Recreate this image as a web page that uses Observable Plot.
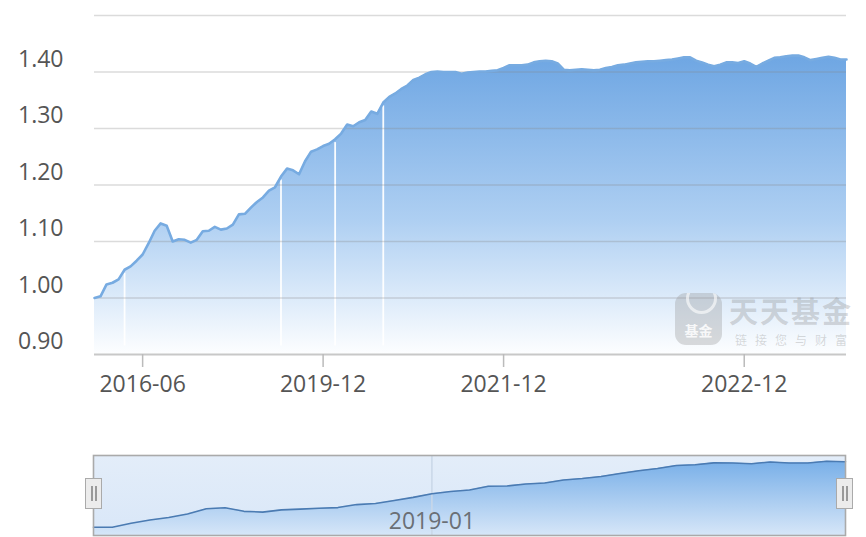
<!DOCTYPE html>
<html>
<head>
<meta charset="utf-8">
<script src="https://cdn.jsdelivr.net/npm/d3@7"></script>
<script src="https://cdn.jsdelivr.net/npm/@observablehq/plot@0.6"></script>
<style>
  html, body { margin: 0; padding: 0; background: #fff; }
  #wrap { position: relative; width: 866px; height: 537px; overflow: hidden; font-family: "Open Sans", sans-serif; }
  #main, #mini { position: absolute; left: 0; }
  #main { top: 0; }
  #mini { top: 445px; }
  .handle { position: absolute; width: 17px; height: 31px; box-sizing: border-box; background: #ececec; border: 1.5px solid #aaa; }
  .handle::before, .handle::after { content: ""; position: absolute; top: 7px; width: 1.5px; height: 15px; background: #9a9a9a; }
  .handle::before { left: 5px; }
  .handle::after { left: 9px; }
  .wm-logo { position: absolute; left: 675px; top: 293px; width: 47px; height: 52px; border-radius: 11px; background: rgba(150,150,150,0.33); overflow: hidden; }
  .wm-logo .c { position: absolute; left: 11px; top: -10px; width: 25px; height: 25px; border-radius: 50%; border: 3px solid rgba(255,255,255,0.6); }
  .wm-logo .t { position: absolute; left: 0; right: 0; bottom: 8px; text-align: center; color: rgba(255,255,255,0.85); font: 700 14px/1 "Noto Sans CJK SC", sans-serif; }
  .wm-big { position: absolute; left: 729px; top: 296px; font: 700 29px/28px "Noto Sans CJK SC", sans-serif; color: rgba(140,140,140,0.33); letter-spacing: 2px; white-space: nowrap; }
  .wm-small { position: absolute; left: 735px; top: 334px; font: 400 12px/12px "Noto Sans CJK SC", sans-serif; color: rgba(140,140,140,0.33); letter-spacing: 8px; white-space: nowrap; }
</style>
</head>
<body>
<div id="wrap">
  <div id="main"></div>
  <div class="wm-logo"><div class="c"></div><div class="t">基金</div></div>
  <div class="wm-big">天天基金</div>
  <div class="wm-small">链接您与财富</div>
  <div id="mini"></div>
  <div class="handle" style="left:85px; top:478px;"></div>
  <div class="handle" style="left:836px; top:478px;"></div>
</div>
<script>
// ---- data ----
const dates = [
  "2016-03","2016-03","2016-03","2016-04","2016-04","2016-04","2016-05","2016-05",
  "2016-06","2016-07","2016-09","2016-10","2016-12","2017-01","2017-02","2017-04","2017-05","2017-07",
  "2017-08","2017-09","2017-11","2017-12","2018-02","2018-03","2018-04","2018-06","2018-07","2018-09",
  "2018-10","2018-11","2019-01","2019-02","2019-04","2019-05","2019-06","2019-08","2019-09","2019-11",
  "2019-12","2019-12","2020-01","2020-02","2020-03","2020-04","2020-04","2020-05","2020-06","2020-07",
  "2020-08","2020-08","2020-09","2020-10","2020-11","2020-12","2020-12","2021-01","2021-02","2021-03",
  "2021-04","2021-04","2021-05","2021-06","2021-07","2021-08","2021-08","2021-09","2021-10","2021-11",
  "2021-12","2021-12","2021-12","2021-12","2022-01","2022-01","2022-01","2022-02","2022-02","2022-02",
  "2022-03","2022-03","2022-03","2022-03","2022-04","2022-04","2022-04","2022-05","2022-05","2022-05",
  "2022-06","2022-06","2022-06","2022-06","2022-07","2022-07","2022-07","2022-08","2022-08","2022-08",
  "2022-09","2022-09","2022-09","2022-09","2022-10","2022-10","2022-10","2022-11","2022-11","2022-11",
  "2022-12","2022-12","2022-12","2022-12","2023-01","2023-01","2023-01","2023-02","2023-02","2023-02",
  "2023-03","2023-03","2023-03","2023-03","2023-04","2023-04","2023-04","2023-05"
];
const nav = [
  1.000,1.003,1.024,1.027,1.033,1.050,1.056,1.066,1.077,1.097,
  1.119,1.132,1.128,1.100,1.104,1.103,1.098,1.103,1.118,1.119,
  1.126,1.121,1.123,1.130,1.148,1.149,1.160,1.170,1.178,1.190,
  1.196,1.215,1.229,1.226,1.219,1.242,1.259,1.263,1.269,1.273,
  1.281,1.291,1.307,1.304,1.311,1.315,1.330,1.326,1.346,1.356,
  1.362,1.370,1.376,1.386,1.390,1.396,1.400,1.401,1.400,1.400,
  1.400,1.397,1.399,1.400,1.401,1.401,1.402,1.403,1.407,1.412,
  1.412,1.412,1.413,1.417,1.419,1.420,1.419,1.415,1.404,1.403,
  1.404,1.405,1.404,1.403,1.404,1.407,1.409,1.412,1.413,1.415,
  1.417,1.418,1.419,1.419,1.420,1.421,1.422,1.424,1.426,1.426,
  1.420,1.417,1.413,1.410,1.413,1.417,1.417,1.416,1.419,1.415,
  1.409,1.415,1.420,1.425,1.426,1.428,1.429,1.429,1.426,1.421,
  1.423,1.425,1.427,1.425,1.422,1.422
];
const gapIndex = [5, 31, 40, 48];           // points where the filled area shows a white gap
const xTickLabels = ["2016-06", "2019-12", "2021-12", "2022-12"];
const yTickValues = [0.9, 1.0, 1.1, 1.2, 1.3, 1.4];
const gridValues = [1.0, 1.1, 1.2, 1.3, 1.4, 1.5];

// overview series shown in the zoom slider
const overview = [
  0.992,0.992,1.019,1.040,1.057,1.080,1.115,1.122,1.098,1.093,
  1.108,1.113,1.119,1.123,1.143,1.150,1.170,1.191,1.215,1.230,
  1.240,1.265,1.267,1.280,1.287,1.307,1.317,1.330,1.350,1.368,
  1.383,1.403,1.408,1.421,1.420,1.415,1.427,1.420,1.420,1.432,1.428
];
const sliderLabel = "2019-01";
const sliderLabelIndex = 18;

// ---- main chart ----
const xTicks = xTickLabels.map(l => dates.indexOf(l));
const main = Plot.plot({
  width: 866, height: 400,
  marginLeft: 94, marginRight: 20, marginTop: 15, marginBottom: 46,
  style: { fontFamily: "'Open Sans', sans-serif", background: "transparent", overflow: "visible" },
  x: { domain: [0, nav.length - 1] },
  y: { domain: [0.9, 1.5] },
  marks: [
    Plot.areaY(nav, { x: (d, i) => i, y1: 0.9, y2: d => d, fill: "url(#navGrad)", curve: "linear" }),
    Plot.ruleX(gapIndex, { x: d => d, y1: 0.915, y2: d => nav[d] - 0.006, stroke: "#fff", strokeWidth: 1.8, strokeOpacity: 0.95 }),
    Plot.gridY(gridValues, { stroke: "#888", strokeOpacity: 0.3, strokeWidth: 1.6 }),
    Plot.lineY(nav, { x: (d, i) => i, y: d => d, stroke: "#77abe1", strokeWidth: 2.6, strokeLinejoin: "round" }),
    Plot.ruleY([0.9], { stroke: "#c8c8c8", strokeWidth: 2 }),
    Plot.axisY({ ticks: yTickValues, tickSize: 0, tickPadding: 31, dy: -12.5, tickFormat: d => d.toFixed(2),
                 fontSize: 23, fill: "#555", label: null, letterSpacing: "0.5px" }),
    Plot.axisX({ ticks: xTicks, tickFormat: i => dates[i], tickSize: 13, tickPadding: 8,
                 fontSize: 23, fill: "#555", stroke: "#bbb", strokeWidth: 1.5, label: null, letterSpacing: "0.6px" })
  ]
});
d3.select(main).insert("defs", ":first-child").html(`
  <linearGradient id="navGrad" x1="0" y1="0" x2="0" y2="1">
    <stop offset="0" stop-color="rgb(110,166,227)"/>
    <stop offset="0.55" stop-color="rgb(174,207,242)"/>
    <stop offset="1" stop-color="rgb(253,254,255)"/>
  </linearGradient>`);
document.getElementById("main").appendChild(main);

// ---- zoom slider overview ----
const mini = Plot.plot({
  width: 866, height: 92,
  marginLeft: 93, marginRight: 21, marginTop: 10, marginBottom: 2,
  style: { fontFamily: "'Open Sans', sans-serif", background: "transparent", overflow: "visible" },
  x: { domain: [0, overview.length - 1], axis: null },
  y: { domain: [0.937, 1.47], axis: null },
  marks: [
    Plot.frame({ fill: "url(#miniBg)" }),
    Plot.areaY(overview, { x: (d, i) => i, y1: 0.937, y2: d => d, fill: "url(#miniGrad)" }),
    Plot.ruleX([sliderLabelIndex], { stroke: "#c9d7e8", strokeWidth: 1.5 }),
    Plot.lineY(overview, { x: (d, i) => i, y: d => d, stroke: "#4b7bb2", strokeWidth: 1.6 }),
    Plot.text([sliderLabel], { x: sliderLabelIndex, frameAnchor: "bottom", lineAnchor: "bottom", dy: -7,
                               fontSize: 23, fill: "#6a6f75", text: d => d, letterSpacing: "0.6px" }),
    Plot.frame({ stroke: "#aaa", strokeWidth: 1.6 })
  ]
});
d3.select(mini).insert("defs", ":first-child").html(`
  <linearGradient id="miniBg" x1="0" y1="0" x2="0" y2="1">
    <stop offset="0" stop-color="#e3edf9"/>
    <stop offset="1" stop-color="#d9e7f8"/>
  </linearGradient>
  <linearGradient id="miniGrad" x1="0" y1="0" x2="0" y2="1">
    <stop offset="0" stop-color="#78afe8"/>
    <stop offset="1" stop-color="#d6e6f8"/>
  </linearGradient>`);
document.getElementById("mini").appendChild(mini);
</script>
</body>
</html>
